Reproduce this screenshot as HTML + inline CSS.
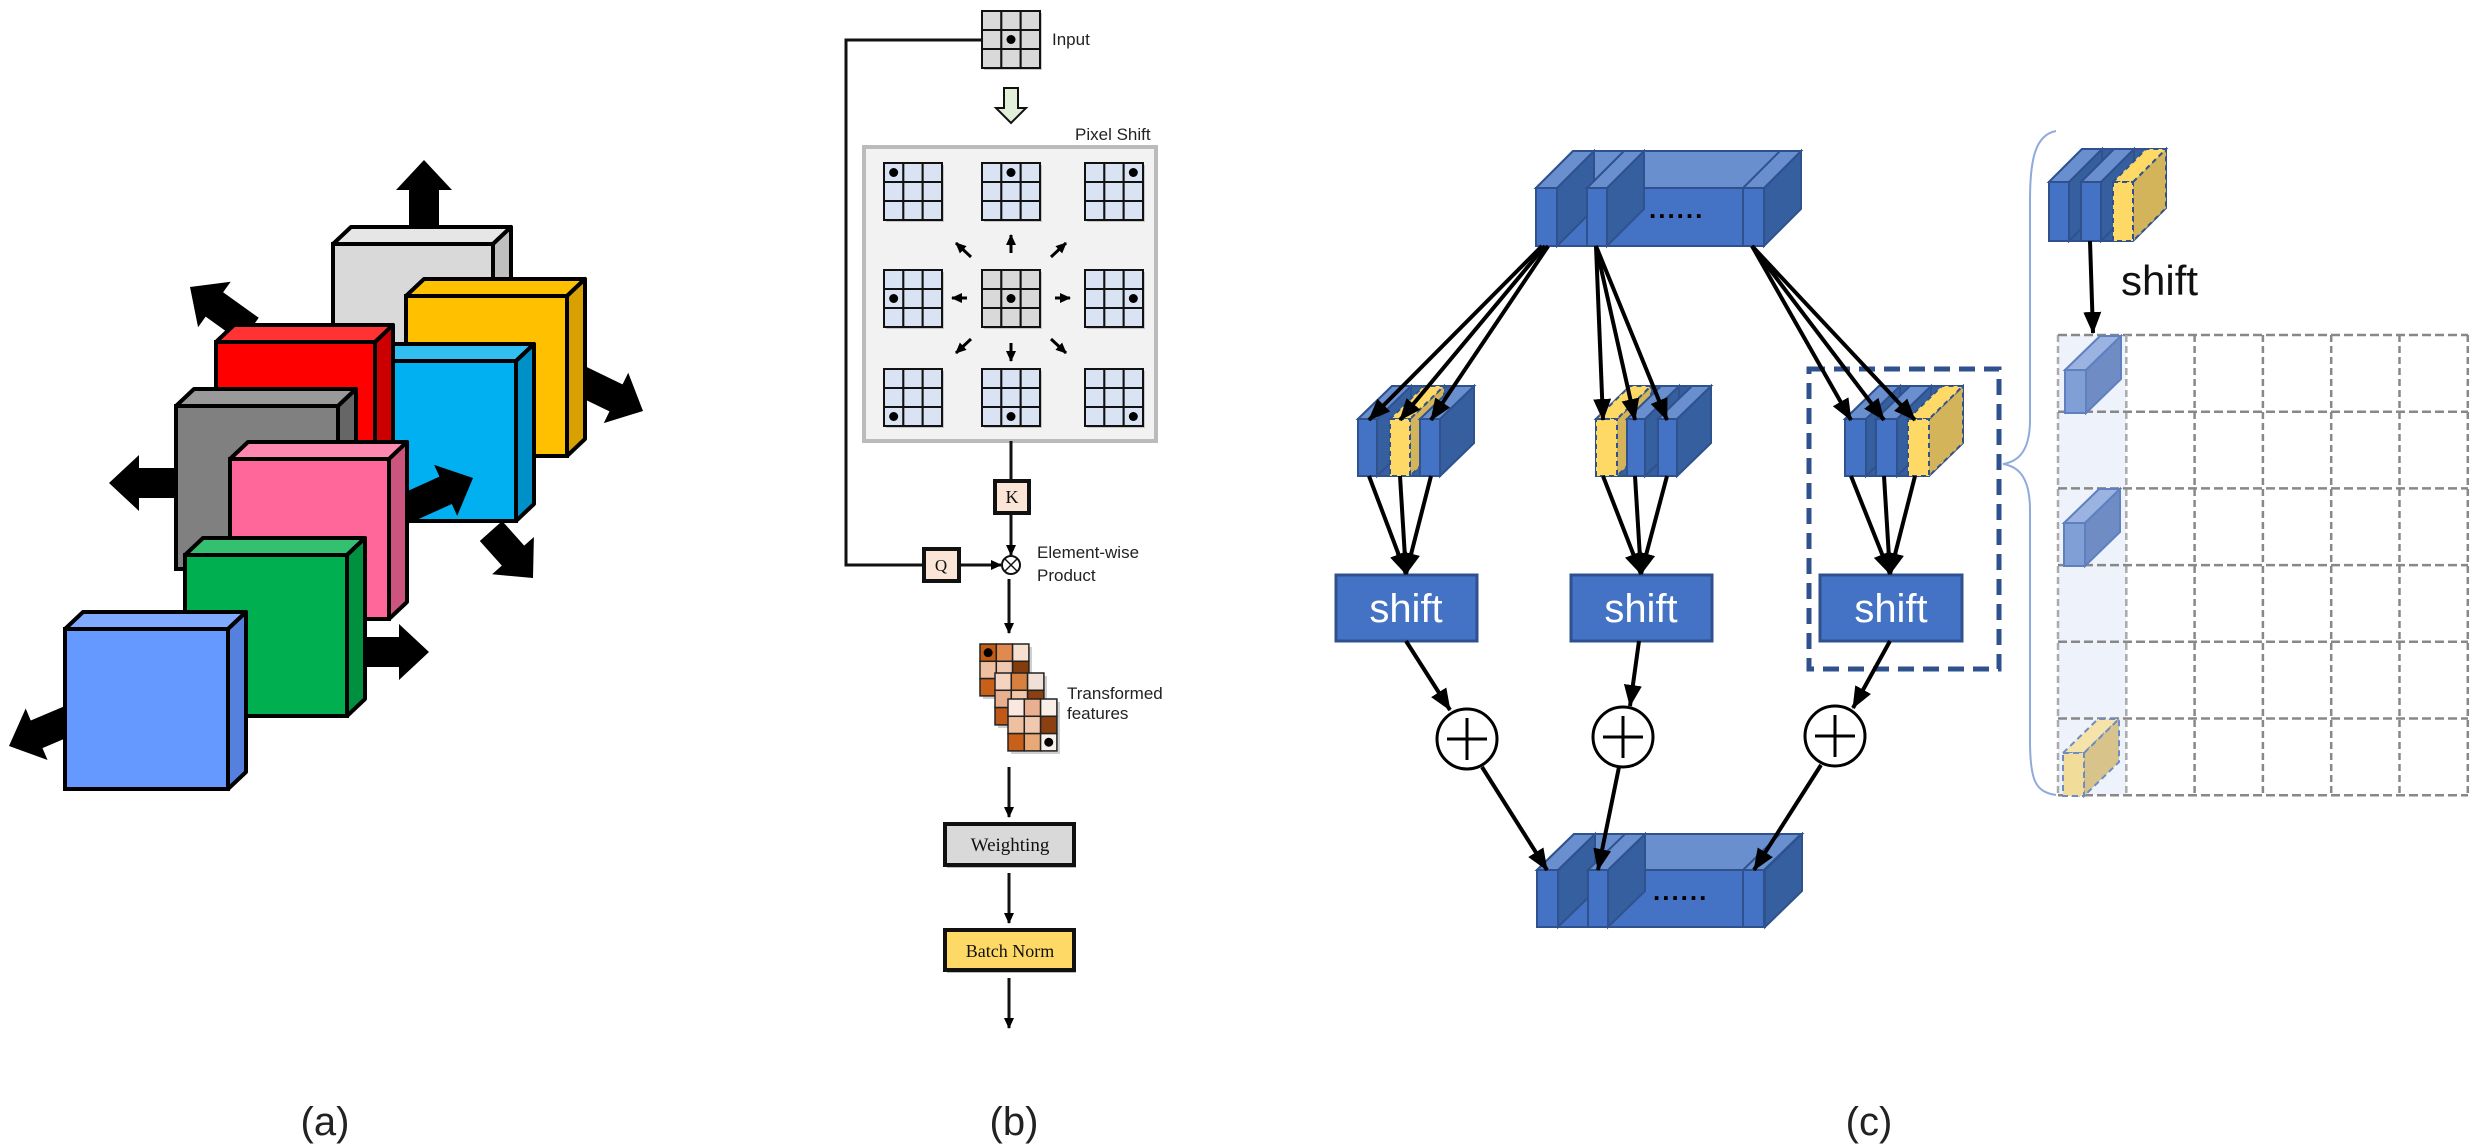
<!DOCTYPE html>
<html><head><meta charset="utf-8"><style>
html,body{margin:0;padding:0;background:#fff;width:2484px;height:1147px;overflow:hidden}
svg{display:block}
.sans{font-family:"Liberation Sans",sans-serif}
.serif{font-family:"Liberation Serif",serif}
</style></head><body>
<svg id="s" width="2484" height="1147" viewBox="0 0 2484 1147" xmlns="http://www.w3.org/2000/svg">
<defs>
<marker id="ah" markerWidth="10" markerHeight="10" refX="9" refY="5" orient="auto" markerUnits="userSpaceOnUse" viewBox="0 0 10 10">
<path d="M0,0 L10,5 L0,10 z" fill="#000"/></marker>
<marker id="ahb" markerWidth="22" markerHeight="18" refX="21" refY="9" orient="auto" markerUnits="userSpaceOnUse" viewBox="0 0 22 18">
<path d="M0,0 L22,9 L0,18 z" fill="#000"/></marker>
<marker id="ahs" markerWidth="11" markerHeight="10" refX="10" refY="5" orient="auto" markerUnits="userSpaceOnUse" viewBox="0 0 11 10">
<path d="M0,0 L11,5 L0,10 z" fill="#000"/></marker>
</defs>
<g id="A"></g>
<g id="B"></g>
<g id="C"></g>
<text x="1052" y="45" class="sans" font-size="17" fill="#222">Input</text>
<text x="1075" y="140" class="sans" font-size="17" fill="#222">Pixel Shift</text>
<text x="1037" y="558" class="sans" font-size="17" fill="#222">Element-wise</text>
<text x="1037" y="581" class="sans" font-size="17" fill="#222">Product</text>
<text x="1067" y="699" class="sans" font-size="17" fill="#222">Transformed</text>
<text x="1067" y="719" class="sans" font-size="17" fill="#222">features</text>
<g id="B2"></g>
<text x="1010" y="851" text-anchor="middle" class="serif" font-size="19" fill="#111">Weighting</text>
<text x="1010" y="957" text-anchor="middle" class="serif" font-size="18" fill="#111">Batch Norm</text>
<text x="1012" y="503" text-anchor="middle" class="serif" font-size="18" fill="#111">K</text>
<text x="941" y="571" text-anchor="middle" class="serif" font-size="17" fill="#111">Q</text>
<text x="1406" y="622" text-anchor="middle" class="sans" font-size="40" fill="#fff">shift</text>
<text x="1641" y="622" text-anchor="middle" class="sans" font-size="40" fill="#fff">shift</text>
<text x="1891" y="622" text-anchor="middle" class="sans" font-size="40" fill="#fff">shift</text>
<text x="2121" y="295" class="sans" font-size="42" fill="#111">shift</text>
<text x="1649" y="218" class="sans" font-size="26" font-weight="bold" fill="#000" letter-spacing="2">......</text>
<text x="1653" y="900" class="sans" font-size="26" font-weight="bold" fill="#000" letter-spacing="2">......</text>
<text x="325" y="1135" text-anchor="middle" class="sans" font-size="40" fill="#222">(a)</text>
<text x="1014" y="1135" text-anchor="middle" class="sans" font-size="40" fill="#222">(b)</text>
<text x="1869" y="1135" text-anchor="middle" class="sans" font-size="40" fill="#222">(c)</text>
</svg>
<script>
var NS="http://www.w3.org/2000/svg";
function el(p,t,a){var e=document.createElementNS(NS,t);for(var k in a)e.setAttribute(k,a[k]);p.appendChild(e);return e;}
function P(pts){return pts.map(function(p){return p[0]+","+p[1]}).join(" ");}
var A=document.getElementById("A"),B=document.getElementById("B"),B2=document.getElementById("B2"),C=document.getElementById("C");
function fatArrow(g,x1,y1,x2,y2){var dx=x2-x1,dy=y2-y1,L=Math.hypot(dx,dy),ux=dx/L,uy=dy/L,nx=-uy,ny=ux;
 var sw=15,hw=28,hl=30;var bx=x2-ux*hl,by=y2-uy*hl;
 el(g,"polygon",{points:P([[x1+nx*sw,y1+ny*sw],[bx+nx*sw,by+ny*sw],[bx+nx*hw,by+ny*hw],[x2,y2],[bx-nx*hw,by-ny*hw],[bx-nx*sw,by-ny*sw],[x1-nx*sw,y1-ny*sw]]),fill:"#000"});}
function box3(g,x,y,w,h,f,t,s){var dx=18,dy=-17;
 el(g,"polygon",{points:P([[x,y],[x+dx,y+dy],[x+w+dx,y+dy],[x+w,y]]),fill:t,stroke:"#000","stroke-width":4,"stroke-linejoin":"round"});
 el(g,"polygon",{points:P([[x+w,y],[x+w+dx,y+dy],[x+w+dx,y+h+dy],[x+w,y+h]]),fill:s,stroke:"#000","stroke-width":4,"stroke-linejoin":"round"});
 el(g,"rect",{x:x,y:y,width:w,height:h,fill:f,stroke:"#000","stroke-width":4});}
fatArrow(A,424,240,424,160);
box3(A,333,244,160,170,"#d9d9d9","#e6e6e6","#bfbfbf");
fatArrow(A,575,378,643,411);
box3(A,406,296,161,160,"#ffc000","#ffc000","#d8a000");
fatArrow(A,250,330,190,287);
box3(A,355,361,161,160,"#00b0f0","#33bef2","#0090c8");
box3(A,216,342,159,170,"#ff0000","#ff3333","#cc0000");
fatArrow(A,491,531,533,578);
fatArrow(A,190,483,109,483);
box3(A,176,406,162,163,"#808080","#999","#666");
fatArrow(A,380,520,473,478);
box3(A,230,459,159,160,"#ff6699","#ff88b0","#cc5580");
fatArrow(A,340,652,429,652);
box3(A,185,555,162,161,"#00b050","#33c070","#009040");
fatArrow(A,75,718,9,746);
box3(A,65,629,163,160,"#6699ff","#80aaff","#5580dd");
function grid3(g,x,y,w,h,fill,di,dj){var cw=w/3,ch=h/3;
 el(g,"rect",{x:x+2,y:y+2,width:w,height:h,fill:"#999",opacity:0.5});
 for(var i=0;i<3;i++)for(var j=0;j<3;j++)el(g,"rect",{x:x+j*cw,y:y+i*ch,width:cw,height:ch,fill:fill,stroke:"#111","stroke-width":2});
 if(di!=null)el(g,"circle",{cx:x+(dj+0.5)*cw,cy:y+(di+0.5)*ch,r:4.5,fill:"#000"});}
grid3(B,982,11,58,57,"#d9d9d9",1,1);
el(B,"polyline",{points:"982,40 846,40 846,565 924,565",fill:"none",stroke:"#111","stroke-width":3});
el(B,"polygon",{points:P([[1004,88],[1018,88],[1018,108],[1026,108],[1011,123],[996,108],[1004,108]]),fill:"#e2efd9",stroke:"#111","stroke-width":2});
el(B,"rect",{x:864,y:147,width:292,height:294,fill:"#f2f2f2",stroke:"#bbb","stroke-width":4});
var cx=[884,982,1085],ry=[163,270,369];
for(var r=0;r<3;r++)for(var c=0;c<3;c++){var center=(r==1&&c==1);
 grid3(B,cx[c],ry[r],58,57,center?"#d9d9d9":"#dae3f3",center?1:r,center?1:c);}
var cX=1011,cY=298;
[[0,-45,0,-63],[0,45,0,63],[-44,0,-59,0],[44,0,59,0],[-40,-41,-55,-55],[40,-41,55,-55],[-40,41,-55,55],[40,41,55,55]].forEach(function(a){
 el(B,"line",{x1:cX+a[0],y1:cY+a[1],x2:cX+a[2],y2:cY+a[3],stroke:"#000","stroke-width":3,"marker-end":"url(#ahs)"});});
el(B,"line",{x1:1011,y1:441,x2:1011,y2:481,stroke:"#111","stroke-width":3});
el(B,"rect",{x:995,y:481,width:34,height:32,fill:"#fbe5d6",stroke:"#111","stroke-width":4});
el(B,"line",{x1:1011,y1:513,x2:1011,y2:555,stroke:"#111","stroke-width":3,"marker-end":"url(#ahs)"});
el(B,"rect",{x:924,y:549,width:35,height:32,fill:"#fbe5d6",stroke:"#111","stroke-width":4});
el(B,"line",{x1:959,y1:565,x2:1001,y2:565,stroke:"#111","stroke-width":3,"marker-end":"url(#ahs)"});
el(B,"circle",{cx:1011,cy:565,r:9,fill:"#fff",stroke:"#111","stroke-width":2});
el(B,"line",{x1:1005,y1:559,x2:1017,y2:571,stroke:"#111","stroke-width":1.5});
el(B,"line",{x1:1017,y1:559,x2:1005,y2:571,stroke:"#111","stroke-width":1.5});
el(B,"line",{x1:1009,y1:579,x2:1009,y2:633,stroke:"#111","stroke-width":3,"marker-end":"url(#ahs)"});
var cols=[["#c55a11","#e08a50","#f8e0d0","#efc0a0","#f0c8b0","#843c0c","#c8601a","#e8a878","#f0d0c0"],
["#f4d4c0","#d88040","#f0e0d8","#e9b090","#f0c8a8","#8a4010","#c05818","#e0a070","#f4d8c8"],
["#f8e8e0","#e8b090","#f8f0e8","#eec0a0","#f0c8b0","#8a4010","#c8601a","#e8a878","#faf0ea"]];
function tgrid(x,y,cs,di,dj){var cw=16.3,ch=17.3;el(B,"rect",{x:x+3,y:y+3,width:49,height:52,fill:"#888",opacity:0.4});
 for(var i=0;i<3;i++)for(var j=0;j<3;j++)el(B,"rect",{x:x+j*cw,y:y+i*ch,width:cw,height:ch,fill:cs[i*3+j],stroke:"#222","stroke-width":1.5});
 el(B,"circle",{cx:x+(dj+0.5)*cw,cy:y+(di+0.5)*ch,r:4.5,fill:"#000"});}
tgrid(980,644,cols[0],0,0);tgrid(995,673,cols[1],2,1);tgrid(1008,699,cols[2],2,2);
el(B2,"line",{x1:1009,y1:767,x2:1009,y2:817,stroke:"#111","stroke-width":3,"marker-end":"url(#ahs)"});
el(B2,"rect",{x:947,y:826,width:129,height:42,fill:"#555",opacity:0.4});
el(B2,"rect",{x:945,y:824,width:129,height:41,fill:"#d9d9d9",stroke:"#111","stroke-width":4});
el(B2,"line",{x1:1009,y1:873,x2:1009,y2:923,stroke:"#111","stroke-width":3,"marker-end":"url(#ahs)"});
el(B2,"rect",{x:947,y:932,width:129,height:41,fill:"#555",opacity:0.4});
el(B2,"rect",{x:945,y:930,width:129,height:40,fill:"#ffd966",stroke:"#111","stroke-width":4});
el(B2,"line",{x1:1009,y1:978,x2:1009,y2:1028,stroke:"#111","stroke-width":3,"marker-end":"url(#ahs)"});
var BF="#4472c4",BT="#6a8fcf",BS="#355f9e",BE="#2f528f";
function bigBlock(x,y,w,h,dx,dy,slabs){
 el(C,"polygon",{points:P([[x,y],[x+dx,y+dy],[x+w+dx,y+dy],[x+w,y]]),fill:BT,stroke:BE,"stroke-width":2});
 el(C,"polygon",{points:P([[x+w,y],[x+w+dx,y+dy],[x+w+dx,y+h+dy],[x+w,y+h]]),fill:BS,stroke:BE,"stroke-width":2});
 el(C,"rect",{x:x,y:y,width:w,height:h,fill:BF,stroke:BE,"stroke-width":2});
 slabs.forEach(function(s,i){var a=s[0],b=s[1];
  if(i<slabs.length-1){el(C,"polygon",{points:P([[b,y],[b+dx,y+dy],[b+dx,y+h+dy],[b,y+h]]),fill:BS,stroke:BE,"stroke-width":2});}
  el(C,"polygon",{points:P([[a,y],[a+dx,y+dy],[b+dx,y+dy],[b,y]]),fill:BT,stroke:BE,"stroke-width":2});
  el(C,"rect",{x:a,y:y,width:b-a,height:h,fill:BF,stroke:BE,"stroke-width":2});});}
bigBlock(1536,188,228,58,37,-37,[[1536,1557],[1587,1607],[1743,1764]]);
bigBlock(1537,870,228,57,37,-36,[[1537,1558],[1588,1608],[1743,1764]]);
function slab(x,w,y,h,dx,dy,yellow){var f=yellow?"#ffd966":BF,t=yellow?"#ffd966":BT,s=yellow?"#d4b45a":BS;var da=yellow?"5,4":null;
 var sa={fill:s,stroke:BE,"stroke-width":2};if(da)sa["stroke-dasharray"]=da;
 el(C,"polygon",Object.assign({points:P([[x+w,y],[x+w+dx,y+dy],[x+w+dx,y+h+dy],[x+w,y+h]])},sa));
 var ta=Object.assign({},sa);ta.fill=t;
 el(C,"polygon",Object.assign({points:P([[x,y],[x+dx,y+dy],[x+w+dx,y+dy],[x+w,y]])},ta));
 var fa=Object.assign({},sa);fa.fill=f;
 el(C,"rect",Object.assign({x:x,y:y,width:w,height:h},fa));}
function smallBlock(xs,ys,y,h,dx,dy){
 el(C,"polygon",{points:P([[xs[0][0],y],[xs[0][0]+dx,y+dy],[xs[2][0]+xs[2][1]+dx,y+dy],[xs[2][0]+xs[2][1]+dx,y+h+dy],[xs[2][0]+xs[2][1],y+h],[xs[0][0],y+h]]),fill:BS,stroke:BE,"stroke-width":2});
 xs.forEach(function(s,i){slab(s[0],s[1],y,h,dx,dy,ys==i);});}
smallBlock([[1358,19],[1390,20],[1420,20]],1,419,57,34,-33);
smallBlock([[1596,21],[1627,18],[1658,19]],0,419,57,34,-33);
smallBlock([[1845,21],[1876,21],[1908,21]],2,419,57,34,-33);
el(C,"rect",{x:1809,y:369,width:190,height:300,fill:"none",stroke:BE,"stroke-width":5,"stroke-dasharray":"16,9"});
[[1336,1477],[1571,1712],[1820,1962]].forEach(function(b){el(C,"rect",{x:b[0],y:575,width:b[1]-b[0],height:66,fill:BF,stroke:BE,"stroke-width":3});});
function arr(x1,y1,x2,y2){el(C,"line",{x1:x1,y1:y1,x2:x2,y2:y2,stroke:"#000","stroke-width":4,"marker-end":"url(#ahb)"});}
[[1546,1369],[1546,1400],[1546,1431]].forEach(function(a){arr(a[0]-4+ (a[1]-1369)/10,246,a[1],420);});
[[1596,1603],[1596,1635],[1596,1667]].forEach(function(a){arr(a[0],246,a[1],420);});
[[1752,1851],[1752,1884],[1752,1915]].forEach(function(a){arr(a[0],246,a[1],420);});
[[1369,1400,1431,1406],[1603,1635,1667,1641],[1851,1884,1915,1890]].forEach(function(g){
 for(var i=0;i<3;i++)arr(g[i],476,g[3],574);});
arr(1406,641,1450,710);arr(1639,641,1630,706);arr(1890,641,1853,708);
[[1467,739],[1623,737],[1835,736]].forEach(function(c){el(C,"circle",{cx:c[0],cy:c[1],r:30,fill:"#fff",stroke:"#000","stroke-width":3});
 el(C,"line",{x1:c[0]-20,y1:c[1],x2:c[0]+20,y2:c[1],stroke:"#000","stroke-width":3});
 el(C,"line",{x1:c[0],y1:c[1]-21,x2:c[0],y2:c[1]+21,stroke:"#000","stroke-width":3});});
arr(1482,767,1547,870);arr(1619,767,1598,870);arr(1821,765,1754,870);
el(C,"path",{d:"M2056,131 C2035,135 2030,160 2030,200 L2030,420 C2030,455 2015,462 2003,464 C2015,466 2030,473 2030,510 L2030,740 C2030,780 2035,792 2056,795",fill:"none",stroke:"#8faadc","stroke-width":2});
smallBlock([[2049,20],[2081,20],[2113,20]],2,182,59,33,-33);
arr(2090,241,2093,333);
el(C,"rect",{x:2058,y:335,width:68,height:460,fill:"#eef2fb"});
for(var i=0;i<=6;i++){var gx=2058+i*68.3;el(C,"line",{x1:gx,y1:335,x2:gx,y2:795,stroke:i<=1?"#aaa":"#888","stroke-width":2.5,"stroke-dasharray":"7,4"});
 var gy=335+i*76.7;el(C,"line",{x1:2058,y1:gy,x2:2468,y2:gy,stroke:"#888","stroke-width":2.5,"stroke-dasharray":"9,4"});}
function cube(x,y,yel){var w=21,h=43,dx=35,dy=-34;var f=yel?"#f2dc9a":"#7f9fd6",t=yel?"#f5e3aa":"#9ab3e0",s=yel?"#d8c48a":"#6f8dc4";
 var a={stroke:yel?"#6f8dc4":"#5f7fbf","stroke-width":2};if(yel)a["stroke-dasharray"]="6,4";
 el(C,"polygon",Object.assign({points:P([[x,y],[x+dx,y+dy],[x+w+dx,y+dy],[x+w,y]]),fill:t},a));
 el(C,"polygon",Object.assign({points:P([[x+w,y],[x+w+dx,y+dy],[x+w+dx,y+h+dy],[x+w,y+h]]),fill:s},a));
 el(C,"rect",Object.assign({x:x,y:y,width:w,height:h,fill:f},a));}
cube(2065,370,false);cube(2064,523,false);cube(2063,753,true);
</script>
</body></html>
